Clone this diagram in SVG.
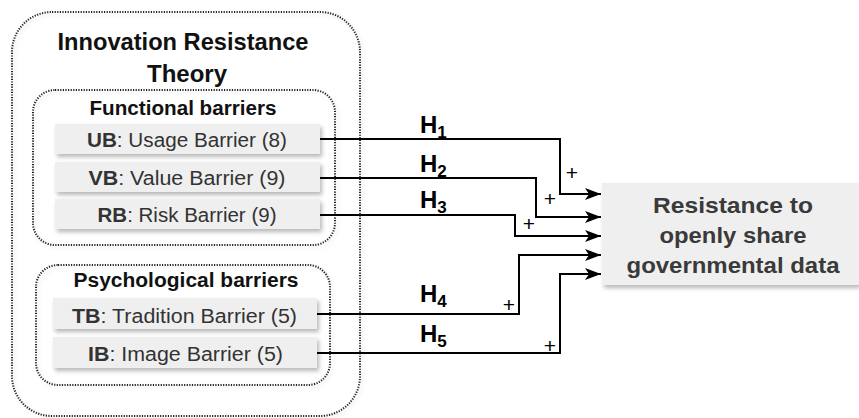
<svg xmlns="http://www.w3.org/2000/svg" width="859" height="418" viewBox="0 0 859 418">
  <defs>
    <filter id="sh" x="-10%" y="-20%" width="130%" height="160%">
      <feDropShadow dx="2" dy="3" stdDeviation="2" flood-color="#000" flood-opacity="0.28"/>
    </filter>
    <filter id="sh2" x="-5%" y="-5%" width="115%" height="115%">
      <feDropShadow dx="2" dy="2" stdDeviation="2" flood-color="#000" flood-opacity="0.15"/>
    </filter>
    <marker id="ah" viewBox="0 0 16 12" refX="16" refY="6" markerWidth="16" markerHeight="12" markerUnits="userSpaceOnUse" orient="auto">
      <path d="M0,0 L16,6 L0,12 L4,6 Z" fill="#000"/>
    </marker>
  </defs>
  <style>
    .grp { fill: none; stroke: #222; stroke-width: 2; stroke-dasharray: 1.2 1.4; }
    .bx { fill: #efefef; stroke: none; filter: url(#sh); }
    .t { font-family: "Liberation Sans", Arial, sans-serif; text-anchor: middle; }
    .hd { font-weight: bold; fill: #111; }
    .bt { font-size: 19.5px; fill: #333; }
    .bt tspan.b { font-weight: bold; }
    .tg { font-size: 22.5px; font-weight: bold; fill: #3a3a3a; }
    .cn { fill: none; stroke: #000; stroke-width: 2; marker-end: url(#ah); }
    .h { font-family: "Liberation Sans", Arial, sans-serif; font-size: 24px; font-weight: bold; fill: #000; }
    .h tspan { font-size: 17px; }
    .p { font-family: "Liberation Sans", Arial, sans-serif; font-size: 21px; fill: #000; text-anchor: middle; }
  </style>

  <g id="irt">
    <rect x="12" y="12" width="348" height="404" rx="40" ry="40" class="grp" filter="url(#sh2)"/>
    <text class="t hd" font-size="24" x="183" y="50" textLength="251" lengthAdjust="spacingAndGlyphs">Innovation Resistance</text>
    <text class="t hd" font-size="24" x="187" y="82">Theory</text>
  </g>

  <g id="functional">
    <rect x="33" y="90" width="302" height="155" rx="22" ry="22" class="grp" filter="url(#sh2)"/>
    <text class="t hd" font-size="19.5" x="183" y="115" textLength="187" lengthAdjust="spacingAndGlyphs">Functional barriers</text>
  </g>

  <g id="ub">
    <rect x="55" y="124" width="265" height="30" class="bx"/>
    <text class="t bt" x="187" y="147" textLength="200" lengthAdjust="spacingAndGlyphs"><tspan class="b">UB</tspan>: Usage Barrier (8)</text>
  </g>
  <g id="vb">
    <rect x="55" y="162" width="265" height="30" class="bx"/>
    <text class="t bt" x="187" y="185" textLength="197" lengthAdjust="spacingAndGlyphs"><tspan class="b">VB</tspan>: Value Barrier (9)</text>
  </g>
  <g id="rb">
    <rect x="55" y="199" width="265" height="30" class="bx"/>
    <text class="t bt" x="187" y="222" textLength="179" lengthAdjust="spacingAndGlyphs"><tspan class="b">RB</tspan>: Risk Barrier (9)</text>
  </g>

  <g id="psychological">
    <rect x="36" y="265" width="294" height="120" rx="22" ry="22" class="grp" filter="url(#sh2)"/>
    <text class="t hd" font-size="19.5" x="186" y="287" textLength="225" lengthAdjust="spacingAndGlyphs">Psychological barriers</text>
  </g>

  <g id="tb">
    <rect x="53" y="298" width="264" height="31" class="bx"/>
    <text class="t bt" x="184.5" y="323" textLength="225" lengthAdjust="spacingAndGlyphs"><tspan class="b">TB</tspan>: Tradition Barrier (5)</text>
  </g>
  <g id="ib">
    <rect x="53" y="337" width="264" height="31" class="bx"/>
    <text class="t bt" x="185.5" y="361" textLength="195" lengthAdjust="spacingAndGlyphs"><tspan class="b">IB</tspan>: Image Barrier (5)</text>
  </g>

  <g id="target">
    <rect x="602" y="183" width="257" height="102" class="bx"/>
    <text class="t tg" x="733" y="213" textLength="160" lengthAdjust="spacingAndGlyphs">Resistance to</text>
    <text class="t tg" x="733" y="243" textLength="147" lengthAdjust="spacingAndGlyphs">openly share</text>
    <text class="t tg" x="733" y="273" textLength="213" lengthAdjust="spacingAndGlyphs">governmental data</text>
  </g>

  <g id="connectors">
    <path class="cn" d="M320,139 H560 V194 H601"/>
    <path class="cn" d="M320,178 H536 V217 H601"/>
    <path class="cn" d="M320,215 H515 V236 H601"/>
    <path class="cn" d="M317,314 H519 V255 H601"/>
    <path class="cn" d="M317,353 H560 V274 H601"/>
    <text class="h" x="420" y="133">H<tspan dy="5">1</tspan></text>
    <text class="h" x="420" y="172">H<tspan dy="5">2</tspan></text>
    <text class="h" x="420" y="208">H<tspan dy="5">3</tspan></text>
    <text class="h" x="420" y="302">H<tspan dy="5">4</tspan></text>
    <text class="h" x="420" y="342">H<tspan dy="5">5</tspan></text>
    <text class="p" x="572" y="180">+</text>
    <text class="p" x="550" y="206">+</text>
    <text class="p" x="529" y="231">+</text>
    <text class="p" x="509" y="312">+</text>
    <text class="p" x="550" y="353">+</text>
  </g>
</svg>
